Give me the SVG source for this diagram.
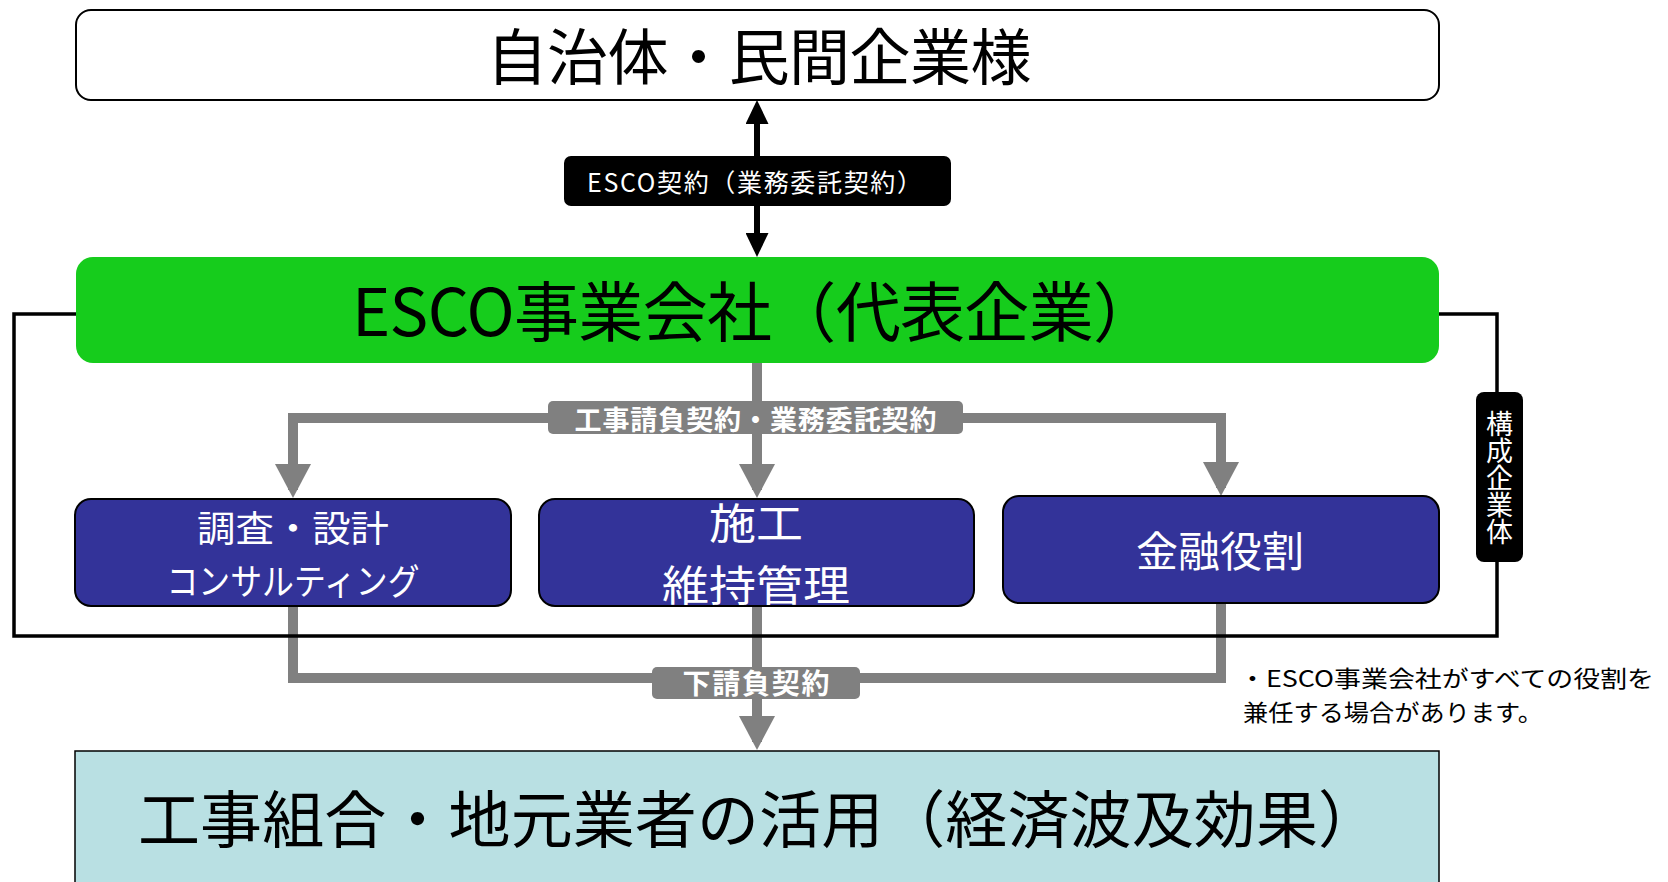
<svg xmlns="http://www.w3.org/2000/svg" width="1668" height="882" viewBox="0 0 1668 882">
<style>
text{font-family:"Noto Sans CJK JP","Noto Sans",sans-serif}
.wt{fill:#fff}
.bk{fill:#000}
.blue{fill:#333399;stroke:#000;stroke-width:2}
.gl{stroke:#808080;stroke-width:10;fill:none}
.gbox{fill:#808080}
.bold{font-weight:700}
</style>
<defs>
<marker id="ah" viewBox="0 0 24 23" refX="14" refY="11.5" markerWidth="24" markerHeight="23" markerUnits="userSpaceOnUse" orient="auto-start-reverse">
<path d="M0,0 L24,11.5 L0,23 z" fill="#000"/>
</marker>
<marker id="gh" viewBox="0 0 34 36" refX="26" refY="18" markerWidth="34" markerHeight="36" markerUnits="userSpaceOnUse" orient="auto">
<path d="M0,0 L34,18 L0,36 z" fill="#808080"/>
</marker>
</defs>
<rect width="1668" height="882" fill="#fff"/>

<g id="connectors">
<line x1="757" y1="110" x2="757" y2="247" stroke="#000" stroke-width="6" marker-start="url(#ah)" marker-end="url(#ah)"/>
<path class="gl" d="M757,363 V490" marker-end="url(#gh)"/>
<path class="gl" d="M293,418 V490" marker-end="url(#gh)"/>
<path class="gl" d="M288,418 H1221 V488" marker-end="url(#gh)"/>
<path class="gl" d="M293,606 V678 H1221 V603"/>
<path class="gl" d="M757,606 V742" marker-end="url(#gh)"/>
<path d="M76,314 H14 V636 H1497 V314 H1439" fill="none" stroke="#000" stroke-width="3.5"/>
</g>

<g id="client">
<rect x="76" y="10" width="1363" height="90" rx="15" fill="#fff" stroke="#000" stroke-width="2"/>
<text x="759" y="80" font-size="61" text-anchor="middle" class="bk" textLength="545" lengthAdjust="spacing">自治体・民間企業様</text>
</g>

<g id="esco-contract-label">
<rect x="564" y="156" width="387" height="50" rx="7" fill="#000"/>
<text x="587" y="192" font-size="25" class="wt" textLength="335" lengthAdjust="spacing">ESCO契約（業務委託契約）</text>
</g>

<g id="esco-company">
<rect x="76" y="257" width="1363" height="106" rx="17" fill="#16CC1C"/>
<text x="352" y="336" font-size="65" class="bk" textLength="806" lengthAdjust="spacing">ESCO事業会社（代表企業）</text>
</g>

<g id="contract-label-1">
<rect x="548" y="401" width="415" height="33" rx="5" class="gbox"/>
<text x="755.5" y="430" font-size="27" text-anchor="middle" class="wt bold" textLength="362" lengthAdjust="spacing">工事請負契約・業務委託契約</text>
</g>

<g id="consulting">
<rect x="75" y="499" width="436" height="107" rx="16" class="blue"/>
<text x="293" y="542" font-size="36" text-anchor="middle" class="wt" textLength="192" lengthAdjust="spacingAndGlyphs">調査・設計</text>
<text x="293" y="595" font-size="36" text-anchor="middle" class="wt" textLength="253" lengthAdjust="spacingAndGlyphs">コンサルティング</text>
</g>

<g id="construction">
<rect x="539" y="499" width="435" height="107" rx="16" class="blue"/>
<text x="756" y="539" font-size="42" text-anchor="middle" class="wt" textLength="94" lengthAdjust="spacingAndGlyphs">施工</text>
<text x="756" y="601" font-size="42" text-anchor="middle" class="wt" textLength="188" lengthAdjust="spacingAndGlyphs">維持管理</text>
</g>

<g id="finance">
<rect x="1003" y="496" width="436" height="107" rx="16" class="blue"/>
<text x="1220" y="567" font-size="42" text-anchor="middle" class="wt">金融役割</text>
</g>

<g id="consortium-label">
<rect x="1476" y="392" width="47" height="170" rx="8" fill="#000"/>
<text x="1499.5" y="410" font-size="27" writing-mode="vertical-rl" class="wt">構成企業体</text>
</g>

<g id="contract-label-2">
<rect x="652" y="667" width="208" height="32" rx="5" class="gbox"/>
<text x="756" y="694" font-size="28" text-anchor="middle" class="wt bold" textLength="147" lengthAdjust="spacing">下請負契約</text>
</g>

<g id="note">
<text x="1239" y="687" font-size="23" class="bk" textLength="415" lengthAdjust="spacingAndGlyphs">・ESCO事業会社がすべての役割を</text>
<text x="1243" y="721" font-size="23" class="bk" textLength="300" lengthAdjust="spacingAndGlyphs">兼任する場合があります。</text>
</g>

<g id="local-contractors">
<rect x="75" y="751" width="1364" height="140" fill="#B9E0E3" stroke="#000" stroke-width="1.5"/>
<text x="138" y="843" font-size="62" class="bk" textLength="1242" lengthAdjust="spacing">工事組合・地元業者の活用（経済波及効果）</text>
</g>
</svg>
